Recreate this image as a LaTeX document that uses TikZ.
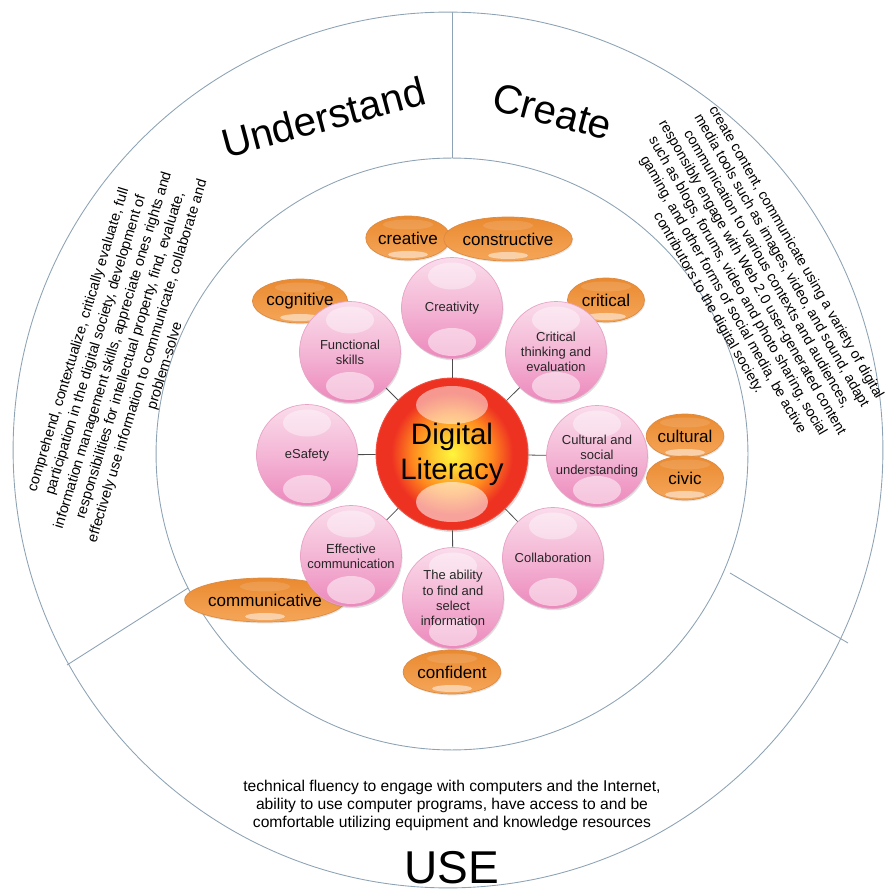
\documentclass[tikz,border=0pt]{standalone}
\usepackage{fontspec}
\setmainfont{Liberation Sans}
\usetikzlibrary{shapes.geometric,shadows}

\definecolor{ringcol}{HTML}{8DA3B5}
\definecolor{pinktop}{HTML}{FADCEB}
\definecolor{pinkmid}{HTML}{F4B6D5}
\definecolor{pinkbot}{HTML}{EC88BC}
\definecolor{pinkline}{HTML}{E7A3C6}
\definecolor{orgtop}{HTML}{EA8A30}
\definecolor{orgbot}{HTML}{F5A659}
\definecolor{orgline}{HTML}{DE8A40}
\definecolor{dlyel}{HTML}{FFF53C}
\definecolor{dlorg}{HTML}{FF8A1E}
\definecolor{dlred}{HTML}{EE3222}

\pgfdeclareradialshading{dlshade}{\pgfpoint{0bp}{0bp}}{%
  color(0bp)=(dlyel); color(6bp)=(dlyel!60!dlorg); color(13bp)=(dlorg);
  color(20bp)=(dlred); color(25bp)=(dlred); color(50bp)=(dlred)}

\tikzset{
  ring/.style={draw=ringcol, line width=.5pt},
  title/.style={font=\fontsize{23}{27}\selectfont, anchor=base, inner sep=0pt},
  desc/.style={align=center, inner sep=0pt, font=\fontsize{8.2}{10.3}\selectfont},
  tag/.style={ellipse, minimum width=1.54cm, minimum height=.88cm, inner sep=0pt,
    top color=orgtop, bottom color=orgbot, draw=orgline, line width=.4pt,
    font=\fontsize{9.7}{11}\selectfont,
    drop shadow={opacity=.2, shadow xshift=.5pt, shadow yshift=-.8pt},
    path picture={
      \fill[white, opacity=.5] ([yshift=-.33cm]path picture bounding box.center)
        ellipse [x radius=.4cm, y radius=.07cm];
      \fill[white, opacity=.12] ([yshift=.27cm]path picture bounding box.center)
        ellipse [x radius=.5cm, y radius=.1cm];
    }},
  ball/.style={circle, minimum size=2.02cm, inner sep=0pt, align=center,
    font=\fontsize{7.4}{8.7}\selectfont, text=black!85,
    top color=pinktop, bottom color=pinkbot, middle color=pinkmid,
    draw=pinkline, line width=.4pt,
    drop shadow={opacity=.25, shadow xshift=.6pt, shadow yshift=-1pt},
    path picture={
      \fill[white, opacity=.4] ([yshift=.64cm]path picture bounding box.center)
        ellipse [x radius=.48cm, y radius=.27cm];
      \fill[white, opacity=.5] ([yshift=-.68cm]path picture bounding box.center)
        ellipse [x radius=.48cm, y radius=.28cm];
    }},
  core/.style={circle, minimum size=3.04cm, inner sep=0pt, align=center,
    font=\fontsize{16.8}{19.9}\selectfont, shading=dlshade,
    draw=dlred!80!pink, line width=.5pt,
    drop shadow={opacity=.25, shadow xshift=.8pt, shadow yshift=-1.2pt},
    path picture={
      \fill[white, opacity=.5] ([yshift=.98cm]path picture bounding box.center)
        ellipse [x radius=.72cm, y radius=.38cm];
      \fill[white, opacity=.55] ([yshift=-.96cm]path picture bounding box.center)
        ellipse [x radius=.72cm, y radius=.4cm];
    }},
  spoke/.style={draw=black!70, line width=.45pt}
}

\begin{document}
\begin{tikzpicture}[x=0.02cm, y=-0.02cm]
        \useasboundingbox (0,0) rectangle (892,891);
        % rings and sector borders
        \draw[ring] (448,450) ellipse [x radius=8.7cm, y radius=8.76cm];
        \draw[ring] (452,454) circle [radius=5.92cm];
        \coordinate (top1) at (452,12);
        \coordinate (top2) at (452,158);
        \coordinate (left1) at (67,665);
        \coordinate (left2) at (188,588);
        \coordinate (right1) at (848,643);
        \coordinate (right2) at (730,573);
        \draw[ring] (top1) -- (top2);
        \draw[ring] (left1) -- (left2);
        \draw[ring] (right1) -- (right2);

        % sector titles
        \node (und) [title, rotate=15] at (327,131) {Understand};
        \node (cre) [title, rotate=-15] at (549,125) {Create};
        \node (use) [title, font=\fontsize{26.2}{30}\selectfont] at (452,883) {USE};

        % sector texts
        \node (undtext) [desc, rotate=73] at (122,353) {comprehend, contextualize, critically evaluate, full\\
            participation in the digital society, development of\\
            information management skills, appreciate ones rights and\\
            responsibilities for intellectual property, find, evaluate,\\
            effectively use information to communicate, collaborate and\\
            problem-solve};
        \node (cretext) [desc, rotate=-60, font=\fontsize{8.1}{9.6}\selectfont] at (752,278) {create content, communicate using a variety of digital\\
            media tools such as images, video, and sound, adapt\\
            communication to various contexts and audiences,\\
            responsibly engage with Web 2.0 user-generated content\\
            such as blogs, forums, video and photo sharing, social\\
            gaming, and other forms of social media, be active\\
            contributors to the digital society.};
        \node (usetext) [desc, font=\fontsize{8.9}{10}\selectfont] at (452,805.5) {technical fluency to engage with computers and the Internet,\\
            ability to use computer programs, have access to and be\\
            comfortable utilizing equipment and knowledge resources};

        % attitudes
        \begin{scope}[every node/.style={tag}]
            \node (creative) at (408,238) {creative};
            \node (constructive) [minimum width=2.26cm] at (508,239) {constructive};
            \node (cognitive) [minimum width=1.58cm] at (300,301) {cognitive};
            \node (critical) at (606,300) {critical};
            \node (cultural) at (685,436) {cultural};
            \node (civic) at (685,478) {civic};
            \node (communicative) [minimum width=2.44cm] at (265,600) {communicative};
            \node (confident) [minimum width=1.5cm] at (452,672) {confident};
        \end{scope}

        % centre and skills
        \node (dl) [core] at (452,454) {Digital\\Literacy};
        \begin{scope}[every node/.style={ball}]
            \node (crea) at (452,308) {Creativity};
            \node (crit) at (556,352) {Critical\\thinking and\\evaluation};
            \node (cult) at (597,456) {Cultural and\\social\\understanding};
            \node (coll) at (553,558) {Collaboration};
            \node (find) at (453,598) {The ability\\to find and\\select\\information};
            \node (comm) at (351,556) {Effective\\communication};
            \node (safe) at (307,455) {eSafety};
            \node (func) at (350,352) {Functional\\skills};
        \end{scope}
        \begin{scope}[every edge/.style={spoke}]
            \path
                (dl) edge (crea)
                (dl) edge (crit)
                (dl) edge (cult)
                (dl) edge (coll)
                (dl) edge (find)
                (dl) edge (comm)
                (dl) edge (safe)
                (dl) edge (func);
        \end{scope}
\end{tikzpicture}
\end{document}
